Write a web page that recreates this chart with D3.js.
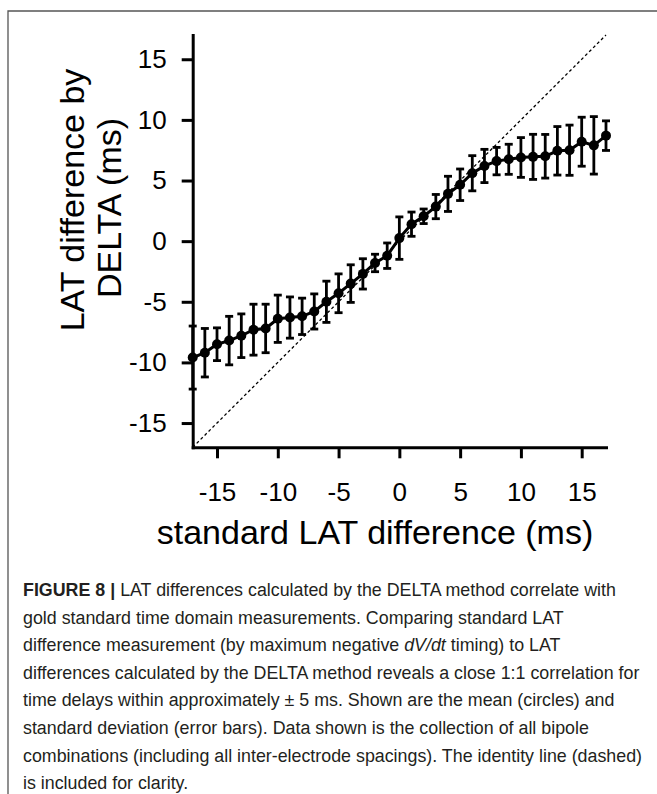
<!DOCTYPE html>
<html>
<head>
  <meta charset="utf-8">
  <title>Figure 8</title>
  <style>
    html, body { margin:0; padding:0; background:#fff; }
    svg { display:block; }
    .axis path, .axis line { stroke:#000; stroke-width:3px; }
    .axis text { font-family:"Liberation Sans", Arial, Helvetica, sans-serif; font-size:26px; fill:#000; }
    .label { font-family:"Liberation Sans", Arial, Helvetica, sans-serif; font-size:34px; fill:#000; }
    .caption { font-family:"Liberation Sans", Arial, Helvetica, sans-serif; fill:#231f20; }
  </style>
  <script src="https://d3js.org/d3.v7.min.js"></script>
</head>
<body>
<svg id="chart"></svg>
<script>
var width = 657,
    height = 794;

// standard LAT difference (ms)
var stdDiff = [-17,-16,-15,-14,-13,-12,-11,-10,-9,-8,-7,-6,-5,-4,-3,-2,-1,0,
               1,2,3,4,5,6,7,8,9,10,11,12,13,14,15,16,17];
// mean LAT difference by DELTA (ms)
var deltaMean = [-9.6,-9.2,-8.5,-8.2,-7.8,-7.3,-7.2,-6.4,-6.3,-6.2,-5.8,-5.0,-4.3,-3.5,-2.7,-1.8,-1.2,0.25,
                 1.4,2.05,2.85,3.9,4.65,5.6,6.2,6.6,6.75,6.9,6.95,7.0,7.45,7.5,8.2,7.9,8.7];
// standard deviation (ms)
var deltaSD = [2.6,2.0,1.35,2.0,1.8,2.1,2.0,1.95,1.7,1.5,1.45,1.7,1.6,1.55,1.25,0.72,1.05,1.75,
               1.0,0.6,1.0,1.45,1.3,1.45,1.37,1.13,1.24,1.64,1.86,1.8,2.0,2.07,2.02,2.37,1.22];
var identity = [-17, 17];
var xTicks = [-15,-10,-5,0,5,10,15];
var yTicks = [-15,-10,-5,0,5,10,15];

var captionLines = [
  [{t:"FIGURE 8 | ", b:true}, {t:"LAT differences calculated by the DELTA method correlate with"}],
  [{t:"gold standard time domain measurements. Comparing standard LAT"}],
  [{t:"difference measurement (by maximum negative "}, {t:"dV/dt", i:true}, {t:" timing) to LAT"}],
  [{t:"differences calculated by the DELTA method reveals a close 1:1 correlation for"}],
  [{t:"time delays within approximately \u00b1 5 ms. Shown are the mean (circles) and"}],
  [{t:"standard deviation (error bars). Data shown is the collection of all bipole"}],
  [{t:"combinations (including all inter-electrode spacings). The identity line (dashed)"}],
  [{t:"is included for clarity."}]
];

var svg = d3.select("#chart")
    .attr("width", width)
    .attr("height", height);

// frame
svg.append("path")
    .attr("d", "M8," + height + "V11H" + width)
    .attr("fill", "none")
    .attr("stroke", "#555")
    .attr("stroke-width", 1.3);

var x = d3.scaleLinear().domain([-17, 17]).range([192.7, 606]);
var y = d3.scaleLinear().domain([-17, 17]).range([447.3, 35]);

var g = svg.append("g");

// identity line
g.append("path")
    .datum(identity)
    .attr("d", d3.line().x(function(d){ return x(d); }).y(function(d){ return y(d); }))
    .attr("fill", "none")
    .attr("stroke", "#000")
    .attr("stroke-width", 1.3)
    .attr("stroke-dasharray", "3,2.6");

var pts = stdDiff.map(function(d, i){ return {x:d, m:deltaMean[i], sd:deltaSD[i]}; });

// error bars
var bars = g.selectAll(".err").data(pts).enter().append("g").attr("class", "err")
    .attr("stroke", "#000").attr("stroke-width", 2.8);
bars.append("line")
    .attr("x1", function(d){ return x(d.x); })
    .attr("x2", function(d){ return x(d.x); })
    .attr("y1", function(d){ return y(d.m + d.sd); })
    .attr("y2", function(d){ return y(d.m - d.sd); });
bars.append("line")
    .attr("x1", function(d){ return x(d.x) - 4; })
    .attr("x2", function(d){ return x(d.x) + 4; })
    .attr("y1", function(d){ return y(d.m + d.sd); })
    .attr("y2", function(d){ return y(d.m + d.sd); });
bars.append("line")
    .attr("x1", function(d){ return x(d.x) - 4; })
    .attr("x2", function(d){ return x(d.x) + 4; })
    .attr("y1", function(d){ return y(d.m - d.sd); })
    .attr("y2", function(d){ return y(d.m - d.sd); });

// mean line
g.append("path")
    .datum(pts)
    .attr("d", d3.line().x(function(d){ return x(d.x); }).y(function(d){ return y(d.m); }))
    .attr("fill", "none")
    .attr("stroke", "#000")
    .attr("stroke-width", 3);

g.selectAll("circle").data(pts).enter().append("circle")
    .attr("cx", function(d){ return x(d.x); })
    .attr("cy", function(d){ return y(d.m); })
    .attr("r", 5)
    .attr("fill", "#000");

// axes
svg.append("g")
    .attr("class", "axis")
    .attr("transform", "translate(" + x(-17) + ",0)")
    .call(d3.axisLeft(y).tickValues(yTicks).tickSize(11).tickSizeOuter(0).tickPadding(15)
        .tickFormat(function(d){ return String(d); }));

svg.append("g")
    .attr("class", "axis")
    .attr("transform", "translate(0," + y(-17) + ")")
    .call(d3.axisBottom(x).tickValues(xTicks).tickSize(11).tickSizeOuter(0).tickPadding(24)
        .tickFormat(function(d){ return String(d); }));

svg.selectAll(".axis path").attr("stroke-linecap", "square");

// axis titles
svg.append("text")
    .attr("class", "label")
    .attr("x", 375)
    .attr("y", 544)
    .attr("text-anchor", "middle")
    .text("standard LAT difference (ms)");

var yl = svg.append("text")
    .attr("class", "label")
    .attr("transform", "translate(84,200) rotate(-90)")
    .attr("text-anchor", "middle");
yl.append("tspan").attr("x", 0).attr("y", 0).text("LAT difference by");
yl.append("tspan").attr("x", -8).attr("y", 37).text("DELTA (ms)");

// caption
var cap = svg.append("g").attr("class", "caption");
var capLines = cap.selectAll("text").data(captionLines).enter().append("text")
    .attr("x", 23)
    .attr("y", function(d, i){ return 596 + i * 27.6; })
    .style("font-size", "100px");
capLines.selectAll("tspan").data(function(d){ return d; }).enter().append("tspan")
    .attr("font-weight", function(d){ return d.b ? "bold" : null; })
    .attr("font-style", function(d){ return d.i ? "italic" : null; })
    .text(function(d){ return d.t; });
// fit the longest line to the printed width
var w = capLines.nodes()[3].getComputedTextLength();
capLines.style("font-size", (100 * 617 / w) + "px");
</script>
</body>
</html>
